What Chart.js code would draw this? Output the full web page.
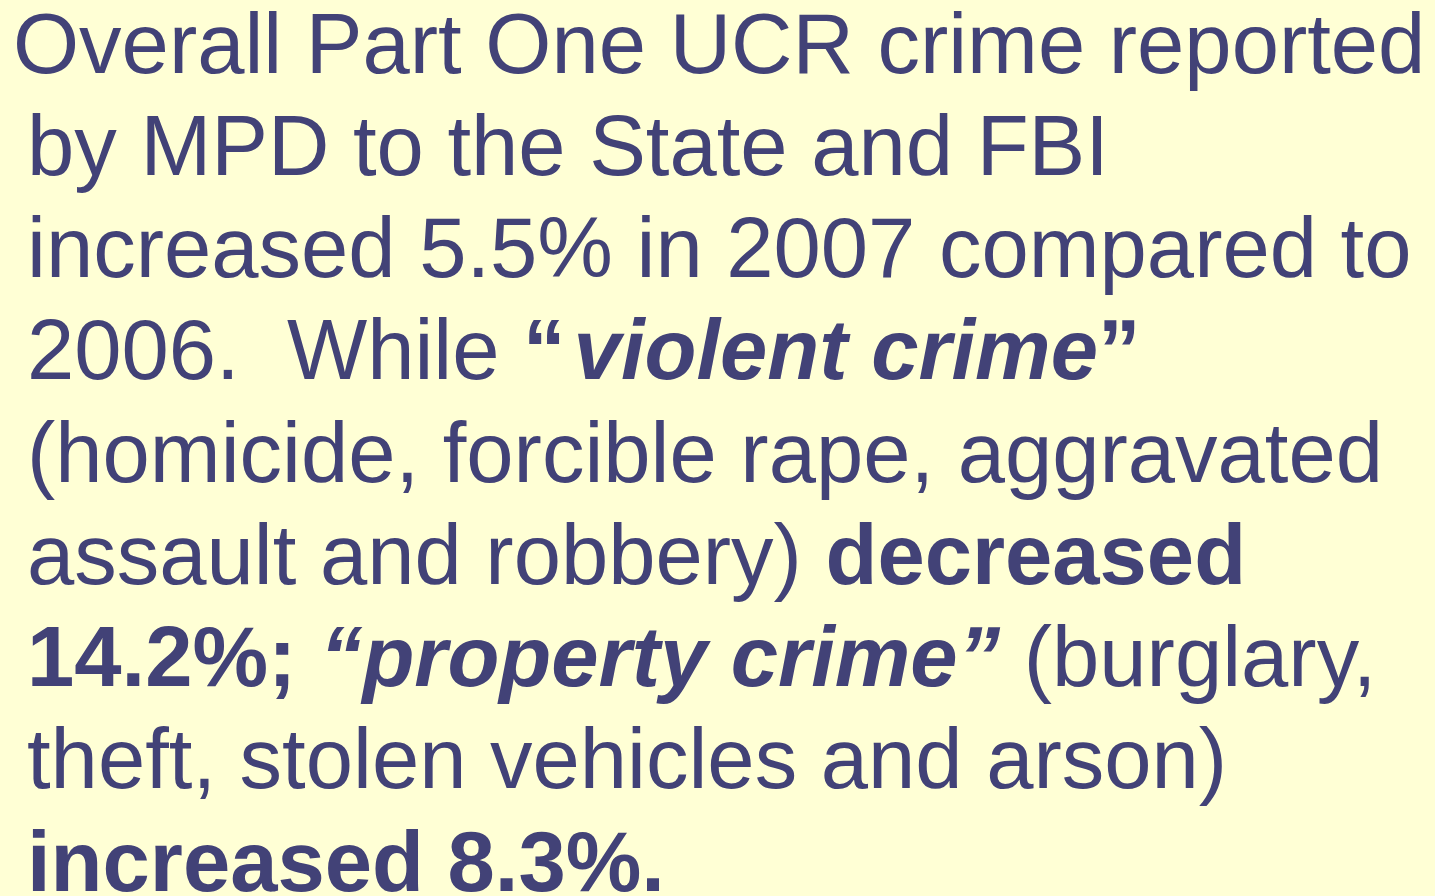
<!DOCTYPE html>
<html>
<head>
<meta charset="utf-8">
<script src="https://cdn.jsdelivr.net/npm/chart.js@4"></script>
<style>
  html, body { margin: 0; padding: 0; width: 1435px; height: 896px; overflow: hidden; background: #FFFFD5; }
  #slide { position: absolute; left: 0; top: 0; width: 1435px; height: 896px; }
  .line { position: absolute; white-space: pre; font-family: "Liberation Sans", Arial, sans-serif;
          font-size: 85px; line-height: 85px; color: #424277; }
  .b { font-weight: bold; }
  .bi { font-weight: bold; font-style: italic; }
  .gap { margin-left: 8px; }
  #chartWrap { position: absolute; left: 0; top: 0; width: 1px; height: 1px; opacity: 0; }
</style>
</head>
<body>
<div id="slide"></div>
<div id="chartWrap"><canvas id="c"></canvas></div>
<script>
// Text content of the slide, line by line: [style, text] segments
const line1 = [["n", "Overall Part One UCR crime reported"]];
const line2 = [["n", "by MPD to the State and FBI"]];
const line3 = [["n", "increased 5.5% in 2007 compared to"]];
const line4 = [["n", "2006.  While "], ["b", "\u201c"], ["bi gap", "violent crime"], ["b", "\u201d"]];
const line5 = [["n", "(homicide, forcible rape, aggravated"]];
const line6 = [["n", "assault and robbery) "], ["b", "decreased"]];
const line7 = [["b", "14.2%; "], ["bi", "\u201cproperty crime\u201d"], ["n", " (burglary,"]];
const line8 = [["n", "theft, stolen vehicles and arson)"]];
const line9 = [["b", "increased 8.3%."]];
const lines = [line1, line2, line3, line4, line5, line6, line7, line8, line9];
const lineLefts = [13, 27, 27, 27, 27, 27, 27, 27, 27];

const slide = document.getElementById('slide');
lines.forEach((segs, i) => {
  const div = document.createElement('div');
  div.className = 'line';
  div.style.top = (0.5 + i * 102.25) + 'px';
  div.style.left = lineLefts[i] + 'px';
  segs.forEach(([st, txt]) => {
    const sp = document.createElement('span');
    if (st !== 'n') sp.className = st;
    sp.textContent = txt;
    div.appendChild(sp);
  });
  slide.appendChild(div);
});

// Chart.js instance (the slide holds no plotted data)
new Chart(document.getElementById('c'), {
  type: 'bar',
  data: { labels: [], datasets: [] },
  options: { animation: false, responsive: false, plugins: { legend: { display: false } },
             scales: { x: { display: false }, y: { display: false } } }
});
</script>
</body>
</html>
